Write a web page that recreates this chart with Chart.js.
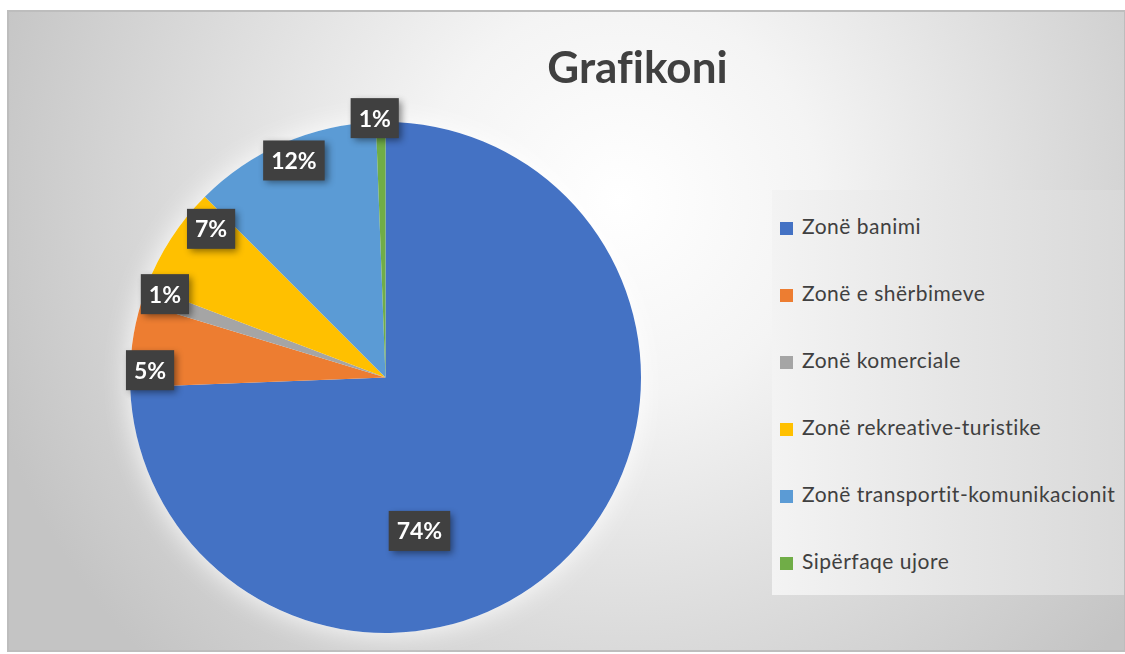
<!DOCTYPE html>
<html>
<head>
<meta charset="utf-8">
<script src="https://cdn.jsdelivr.net/npm/chart.js@4"></script>
<style>
    html, body { margin: 0; padding: 0; background: #ffffff; }
    #kutia { position: relative; width: 1125px; height: 654px; overflow: hidden; }
    #grafiku { position: absolute; left: 0; top: 0; }
    #titulli {
        position: absolute; left: 500px; top: 40px; width: 275px; text-align: center;
        font: bold 44px Lato, "Open Sans", sans-serif; color: #404040;
        font-variant-ligatures: none;
    }
    #legjenda {
        position: absolute; left: 772px; top: 190px; width: 352px; height: 405px;
        background: linear-gradient(to right, #f3f3f3, #d9d9d9);
    }
    .rresht {
        position: absolute; left: 8px; height: 24px; line-height: 24px;
        font: 21px Lato, "Open Sans", sans-serif; letter-spacing: 0.5px;
        color: #404040; white-space: nowrap; font-variant-ligatures: none;
    }
    .katror { display: inline-block; width: 13px; height: 13px; margin-right: 9px; vertical-align: -1px; }
</style>
</head>
<body>
<div id="kutia">
    <canvas id="grafiku" width="1125" height="654"></canvas>
    <div id="titulli">Grafikoni</div>
    <div id="legjenda"></div>
</div>
<script>
const kategorite = [
    "Zonë banimi",
    "Zonë e shërbimeve",
    "Zonë komerciale",
    "Zonë rekreative-turistike",
    "Zonë transportit-komunikacionit",
    "Sipërfaqe ujore"
];
const vlerat = [74.4, 5.3, 1.1, 6.7, 11.9, 0.6];
const ngjyrat = ["#4472C4", "#ED7D31", "#A5A5A5", "#FFC000", "#5B9BD5", "#70AD47"];

// vendosja e etiketave: [pjesa e rrezes, zhvendosja e kendit ne grade]
const vendEtiketash = [[0.615, 33.6], [0.922, -5.6], [0.923, 1.8], [0.897, 7.5], [0.922, 0.7], [1.016, -1.3]];

const totali = vlerat.reduce((a, b) => a + b, 0);

// legjenda
const legjenda = document.getElementById("legjenda");
kategorite.forEach((emri, i) => {
    const rresht = document.createElement("div");
    rresht.className = "rresht";
    rresht.style.top = (23 + i * 67) + "px";
    rresht.innerHTML = `<span class="katror" style="background:${ngjyrat[i]}"></span>${emri}`;
    legjenda.appendChild(rresht);
});

const sfondi = {
    id: "sfondi",
    beforeDraw(chart) {
        const ctx = chart.ctx;
        ctx.save();
        ctx.fillStyle = "#ffffff";
        ctx.fillRect(0, 0, chart.width, chart.height);
        const gr = ctx.createRadialGradient(620, 200, 0, 620, 200, 660);
        gr.addColorStop(0, "#ffffff");
        gr.addColorStop(0.3, "#f4f4f4");
        gr.addColorStop(1, "#c4c4c4");
        ctx.fillStyle = gr;
        ctx.fillRect(7, 10, 1118, 642);
        ctx.strokeStyle = "#bdbdbd";
        ctx.lineWidth = 2;
        ctx.strokeRect(8, 11, 1117, 640);
        ctx.restore();
    },
    beforeDatasetsDraw(chart) {
        const harku = chart.getDatasetMeta(0).data[0];
        const ctx = chart.ctx;
        ctx.save();
        ctx.shadowColor = "rgba(255,255,255,0.95)";
        ctx.shadowBlur = 28;
        ctx.fillStyle = "#ffffff";
        ctx.beginPath();
        ctx.arc(harku.x, harku.y, harku.outerRadius, 0, Math.PI * 2);
        ctx.fill();
        ctx.restore();
    }
};

const etiketat = {
    id: "etiketat",
    afterDatasetsDraw(chart) {
        const ctx = chart.ctx;
        const meta = chart.getDatasetMeta(0);
        ctx.save();
        ctx.font = "bold 23px Lato, 'Open Sans', sans-serif";
        ctx.textAlign = "center";
        ctx.textBaseline = "middle";
        meta.data.forEach((harku, i) => {
            const [pjesa, zhv] = vendEtiketash[i];
            const kendi = (harku.startAngle + harku.endAngle) / 2 + zhv * Math.PI / 180;
            const r = harku.outerRadius * pjesa;
            const x = harku.x + Math.cos(kendi) * r;
            const y = harku.y + Math.sin(kendi) * r;
            const teksti = Math.round(vlerat[i] / totali * 100) + "%";
            const gjeresia = ctx.measureText(teksti).width + 16;
            const lartesia = 40;
            ctx.save();
            ctx.shadowColor = "rgba(0,0,0,0.45)";
            ctx.shadowBlur = 7;
            ctx.shadowOffsetX = 3;
            ctx.shadowOffsetY = 3;
            ctx.fillStyle = "#404040";
            ctx.fillRect(x - gjeresia / 2, y - lartesia / 2, gjeresia, lartesia);
            ctx.restore();
            ctx.fillStyle = "#ffffff";
            ctx.fillText(teksti, x, y + 1);
        });
        ctx.restore();
    }
};

new Chart(document.getElementById("grafiku"), {
    type: "pie",
    data: {
        labels: kategorite,
        datasets: [{
            data: vlerat,
            backgroundColor: ngjyrat,
            borderWidth: 0
        }]
    },
    options: {
        responsive: false,
        animation: false,
        events: [],
        layout: { padding: { left: 130, top: 122, right: 484, bottom: 21 } },
        plugins: {
            legend: { display: false },
            tooltip: { enabled: false },
            title: { display: false }
        }
    },
    plugins: [sfondi, etiketat]
});
</script>
</body>
</html>
